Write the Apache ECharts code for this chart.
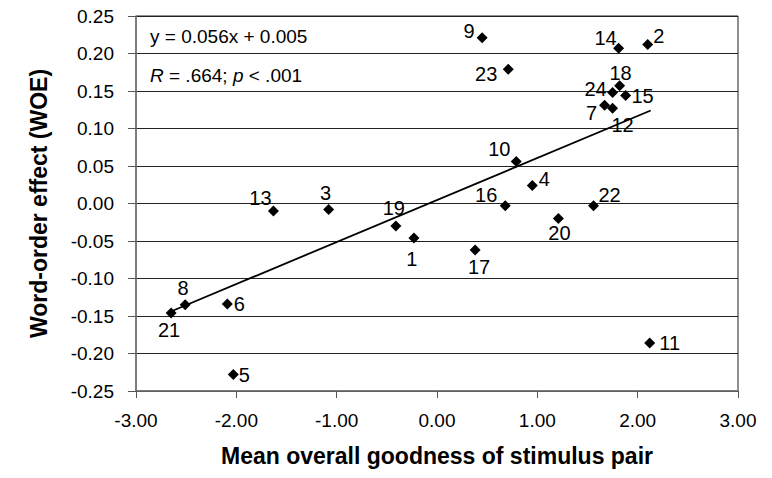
<!DOCTYPE html>
<html>
<head>
<meta charset="utf-8">
<script src="https://cdn.jsdelivr.net/npm/echarts@6/dist/echarts.min.js"></script>
<style>
  html, body { margin: 0; padding: 0; background: #fff; }
  #chart { width: 772px; height: 478px; }
</style>
</head>
<body>
<div id="chart"></div>
<script>
// stimulus pair number, mean goodness (x), word-order effect (y)
const pairIds = [1, 2, 3, 4, 5, 6, 7, 8, 9, 10, 11, 12, 13, 14, 15, 16, 17, 18, 19, 20, 21, 22, 23, 24];
const goodness = [-0.23, 2.10, -1.08, 0.95, -2.03, -2.09, 1.67, -2.51, 0.45, 0.79, 2.12, 1.75,
                  -1.63, 1.81, 1.88, 0.68, 0.38, 1.82, -0.41, 1.21, -2.65, 1.56, 0.71, 1.75];
const woe = [-0.046, 0.212, -0.008, 0.024, -0.228, -0.134, 0.131, -0.135, 0.221, 0.056, -0.186, 0.127,
             -0.010, 0.207, 0.144, -0.003, -0.062, 0.157, -0.030, -0.020, -0.146, -0.003, 0.179, 0.148];
// regression line end points
const trendX = [-2.67, 2.13];
const trendY = [-0.145, 0.124];
const xTicks = [-3, -2, -1, 0, 1, 2, 3];
const yTicks = [-0.25, -0.2, -0.15, -0.1, -0.05, 0, 0.05, 0.1, 0.15, 0.2, 0.25];

// where each number sits around its marker (px)
const labelOffset = {
  1: [-2, 21], 2: [11, -9], 3: [-3, -17], 4: [12, -7], 5: [11, 0], 6: [12, 0],
  7: [-13, 8], 8: [-2, -17], 9: [-13, -7], 10: [-17, -13], 11: [20, 0], 12: [10, 17],
  13: [-13, -13], 14: [-13, -10], 15: [17, 0], 16: [-19, -11], 17: [4, 17], 18: [1, -13],
  19: [-2, -18], 20: [1, 14], 21: [-2, 17], 22: [16, -11], 23: [-22, 5], 24: [-17, -4]
};

const font = "Liberation Sans, Arial, sans-serif";
const chart = echarts.init(document.getElementById("chart"), null, { renderer: "svg" });

chart.setOption({
  animation: false,
  textStyle: { fontFamily: font, color: "#000" },
  grid: { left: 136, right: 34, top: 16, bottom: 87, show: true, borderColor: "#222", borderWidth: 1 },
  xAxis: {
    type: "value",
    min: xTicks[0],
    max: xTicks[xTicks.length - 1],
    interval: 1,
    name: "Mean overall goodness of stimulus pair",
    nameLocation: "middle",
    nameGap: 53,
    nameTextStyle: { fontFamily: font, fontSize: 23, fontWeight: "bold", color: "#000" },
    axisLine: { onZero: false, lineStyle: { color: "#777", width: 1.5 } },
    axisTick: { show: true, length: 7, lineStyle: { color: "#555" } },
    axisLabel: { margin: 20, fontSize: 19, color: "#000", formatter: (v) => v.toFixed(2) },
    splitLine: { show: false }
  },
  yAxis: {
    type: "value",
    min: yTicks[0],
    max: yTicks[yTicks.length - 1],
    interval: 0.05,
    name: "Word-order effect (WOE)",
    nameLocation: "middle",
    nameGap: 86,
    nameTextStyle: { fontFamily: font, fontSize: 23, fontWeight: "bold", color: "#000" },
    axisLine: { onZero: false, lineStyle: { color: "#777", width: 1.5 } },
    axisTick: { show: true, length: 8, lineStyle: { color: "#555" } },
    axisLabel: { margin: 22, fontSize: 19, color: "#000", formatter: (v) => v.toFixed(2) },
    splitLine: { show: true, lineStyle: { color: "#222", width: 1 } }
  },
  graphic: [
    {
      type: "text",
      left: 150,
      top: 27,
      style: { text: "y = 0.056x + 0.005", font: "19px " + font, fill: "#000" }
    },
    {
      type: "text",
      left: 150,
      top: 66,
      style: {
        text: "{i|R} = .664; {i|p} < .001",
        font: "19px " + font,
        fill: "#000",
        rich: { i: { fontStyle: "italic", fontSize: 19, fontFamily: font } }
      }
    }
  ],
  series: [
    {
      type: "line",
      data: trendX.map((x, i) => [x, trendY[i]]),
      symbol: "none",
      lineStyle: { color: "#000", width: 1.8 },
      z: 2
    },
    {
      type: "scatter",
      data: pairIds.map((id, i) => ({
        value: [goodness[i], woe[i]],
        label: { offset: labelOffset[id] }
      })),
      symbol: "diamond",
      symbolSize: [11, 11],
      itemStyle: { color: "#000", opacity: 1 },
      label: {
        show: true,
        position: "inside",
        align: "center",
        verticalAlign: "middle",
        fontFamily: font,
        fontSize: 20,
        color: "#000",
        formatter: (p) => String(pairIds[p.dataIndex])
      },
      z: 3
    }
  ]
});
</script>
</body>
</html>
